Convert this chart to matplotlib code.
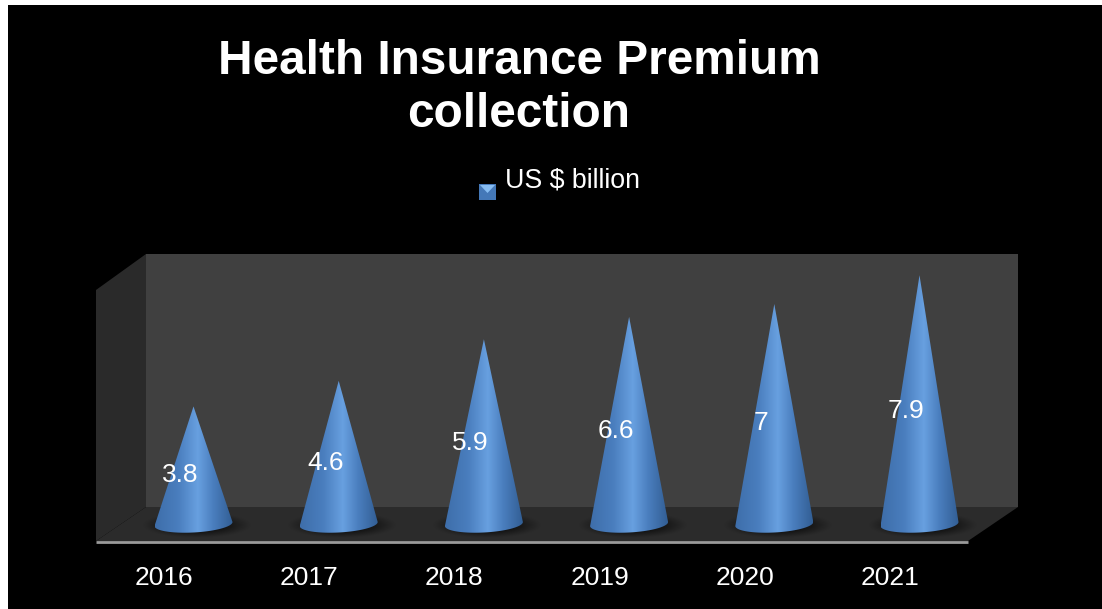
import numpy as np
import matplotlib
matplotlib.use('Agg')
import matplotlib.pyplot as plt
from matplotlib.patches import Polygon, Rectangle

years = ['2016', '2017', '2018', '2019', '2020', '2021']
premium = [3.8, 4.6, 5.9, 6.6, 7, 7.9]

W, H = 1102, 609
X0, DX = 193.5, 145.2   # pixel x of the first category, spacing
Y0, DY = 528, 32        # pixel y of zero, pixels per unit

plt.rcParams['font.family'] = ['Liberation Sans', 'DejaVu Sans']

fig = plt.figure(figsize=(W / 100, H / 100), dpi=100, facecolor='black')

# box walls live in a pixel-sized axes behind the chart
bg = fig.add_axes([0, 0, 1, 1], zorder=0)
bg.set_xlim(0, W)
bg.set_ylim(H, 0)
bg.axis('off')
bg.add_patch(Polygon([(146, 254), (1018, 254), (1018, 507), (146, 507)], fc='#404040', ec='none'))
bg.add_patch(Polygon([(96, 290), (146, 254), (146, 507), (96, 541)], fc='#2a2a2a', ec='none'))
bg.add_patch(Polygon([(96, 541), (146, 507), (1018, 507), (968, 541)], fc='#2b2b2b', ec='none'))
bg.plot([96, 968], [542, 542], color='#9a9a9a', lw=2, solid_capstyle='butt')
# light edge on the image border
bg.add_patch(Rectangle((0, 0), W, 5, fc='white', ec='none'))
bg.add_patch(Rectangle((0, 0), 8, H, fc='white', ec='none'))

ax = fig.add_axes([0, 0, 1, 1], zorder=1)
ax.axis('off')
ax.patch.set_alpha(0)

half_w = 39 / DX
half_h = 8.5 / DY
base_y = 4 / DY    # ellipse centre sits a little above zero
tilt = 2 / DY

# horizontal shading of a cone: dark edges, bright stripe near the centre
stops = [0, 0.3, 0.55, 0.75, 1]
cols = np.array([[62, 110, 170], [74, 126, 190], [104, 160, 224], [74, 126, 190], [50, 94, 148]]) / 255
u = np.linspace(0, 1, 200)
shade = np.stack([np.interp(u, stops, cols[:, c]) for c in range(3)], axis=1)[None, :, :]

yy, xx = np.mgrid[-1:1:80j, -1:1:160j]
halo = np.zeros((80, 160, 4))
halo[..., 3] = np.clip(1 - (xx ** 2 + yy ** 2), 0, 1) ** 1.3 * 0.8

label_px = [475.5, 462.5, 442.5, 431.5, 423.5, 411.5]

for i, (year, val) in enumerate(zip(years, premium)):
    # soft shadow on the floor
    ax.imshow(halo, extent=[i - 1.4 * half_w + 3 / DX, i + 1.4 * half_w + 3 / DX,
                            base_y - 14 / DY, base_y + 12 / DY],
              aspect='auto', zorder=2, interpolation='bilinear')
    # base ellipse tips up a little to the right
    t = np.linspace(np.pi, 2 * np.pi, 60)
    bx = i + half_w * np.cos(t)
    by = base_y + half_h * np.sin(t) + np.cos(t) * tilt
    cone = Polygon(np.vstack([[i, val], np.column_stack([bx, by])]), closed=True,
                   fc='none', ec='none', transform=ax.transData)
    ax.add_patch(cone)
    im = ax.imshow(shade, extent=[i - half_w, i + half_w, -1, val], aspect='auto', zorder=3,
                   interpolation='bilinear')
    im.set_clip_path(cone)
    ax.text(i - 13.5 / DX, (Y0 - label_px[i]) / DY, str(val), color='white', fontsize=19,
            ha='center', va='center', zorder=5)
    ax.text(i - 29.5 / DX, (Y0 - 578) / DY, year, color='white', fontsize=19,
            ha='center', va='center', zorder=5)

ax.set_xlim(-X0 / DX, (W - X0) / DX)
ax.set_ylim(-(H - Y0) / DY, Y0 / DY)

fig.text(519 / W, 1 - 88 / H, 'Health Insurance Premium\ncollection', color='white', fontsize=34.4,
         fontweight='bold', ha='center', va='center', linespacing=1.22, zorder=6)
fig.text(505 / W, 1 - 181 / H, 'US $ billion', color='white', fontsize=19.3, ha='left', va='center', zorder=6)

# legend key: small pyramid-shaded square
bg.add_patch(Rectangle((479, 184), 17, 16, fc='#4478b8', ec='none'))
bg.add_patch(Polygon([(480, 185), (495, 185), (487.5, 193)], fc='#86bcf2', ec='none'))

fig.savefig('out.png', dpi=100, facecolor='black')
plt.close()
